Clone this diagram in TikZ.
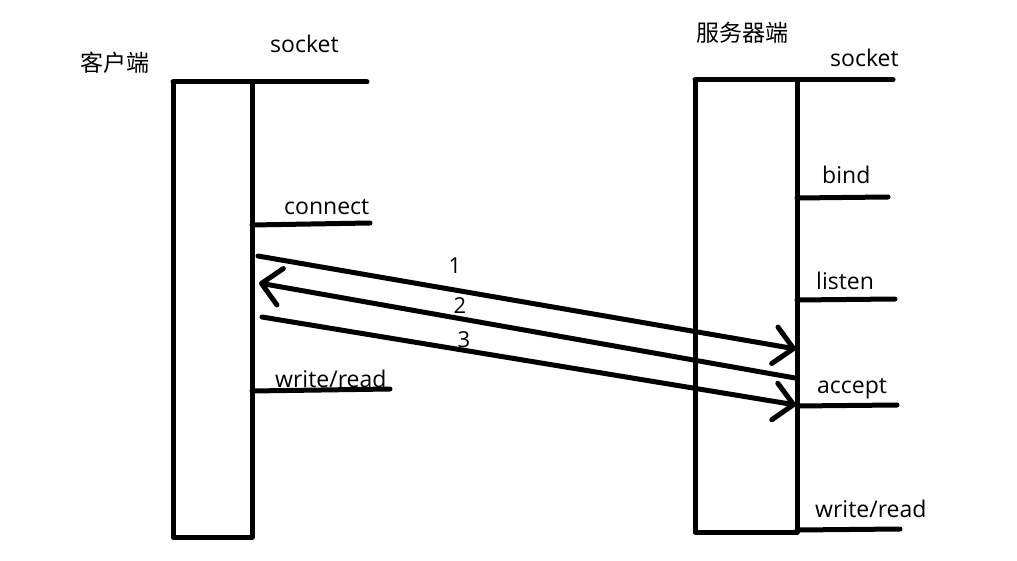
\documentclass[tikz,border=0pt]{standalone}
\usepackage{fontspec}
\setmainfont{Open Sans}
\newfontfamily\cjk{Noto Sans CJK SC}
\usetikzlibrary{arrows.meta}
\tikzset{
  stroke/.style={line width=5pt, line cap=round, line join=round},
  msg/.style={stroke, -{Straight Barb[length=19pt, width=37pt, round]}},
  lbl/.style={font=\fontsize{23}{26}\selectfont, inner sep=0pt, anchor=base west},
  cjklbl/.style={font=\fontsize{23}{26}\selectfont\cjk, inner sep=0pt, anchor=center},
  num/.style={font=\fontsize{22}{24}\selectfont, inner sep=0pt, anchor=center}
}
\begin{document}
\begin{tikzpicture}[x=1pt, y=-1pt]
\useasboundingbox (0,0) rectangle (1017,561);
% client
\coordinate (cTL) at (173,82);
\coordinate (cTR) at (252,82);
\coordinate (cBL) at (173,537);
\coordinate (cBR) at (252,537);
\coordinate (cSock) at (367,82);
\coordinate (cConA) at (252,225);
\coordinate (cConB) at (370,223);
\coordinate (cWrA) at (252,391);
\coordinate (cWrB) at (390,389);
\draw[stroke] (cTL) -- (cSock);
\draw[stroke] (cTL) -- (cBL) -- (cBR) -- (cTR);
\draw[stroke] (cConA) -- (cConB);
\draw[stroke] (cWrA) -- (cWrB);
\node[cjklbl] (client) at (115,63) {客户端};
\node[lbl] (csocket) at (270,53) {socket};
\node[lbl] (cconnect) at (284,215) {connect};
\node[lbl] (cwrite) at (275,387) {write/read};
% server
\coordinate (sTL) at (695,80);
\coordinate (sTR) at (797,80);
\coordinate (sBL) at (695,532);
\coordinate (sBR) at (797,532);
\coordinate (sSock) at (893,80);
\coordinate (sBindA) at (797,198);
\coordinate (sBindB) at (888,197);
\coordinate (sLisA) at (797,300);
\coordinate (sLisB) at (895,299);
\coordinate (sAccA) at (797,406);
\coordinate (sAccB) at (897,405);
\coordinate (sWrA) at (797,530);
\coordinate (sWrB) at (900,529);
\draw[stroke] (sTL) -- (sSock);
\draw[stroke] (sTL) -- (sBL) -- (sBR) -- (sTR);
\draw[stroke] (sBindA) -- (sBindB);
\draw[stroke] (sLisA) -- (sLisB);
\draw[stroke] (sAccA) -- (sAccB);
\draw[stroke] (sWrA) -- (sWrB);
\node[cjklbl] (server) at (742,33) {服务器端};
\node[lbl] (ssocket) at (830,67) {socket};
\node[lbl] (sbind) at (822,184) {bind};
\node[lbl] (slisten) at (816,290) {listen};
\node[lbl] (saccept) at (817,393) {accept};
\node[lbl] (swrite) at (815,517) {write/read};
% messages
\coordinate (m1a) at (258,256);
\coordinate (m1b) at (796,349);
\coordinate (m2a) at (795,378);
\coordinate (m2b) at (259,283);
\coordinate (m3a) at (262,317);
\coordinate (m3b) at (796,405);
\draw[msg] (m1a) -- (m1b);
\draw[msg] (m2a) -- (m2b);
\draw[msg] (m3a) -- (m3b);
\node[num] (n1) at (455,266) {1};
\node[num] (n2) at (460,306) {2};
\node[num] (n3) at (464,340) {3};
\end{tikzpicture}
\end{document}
